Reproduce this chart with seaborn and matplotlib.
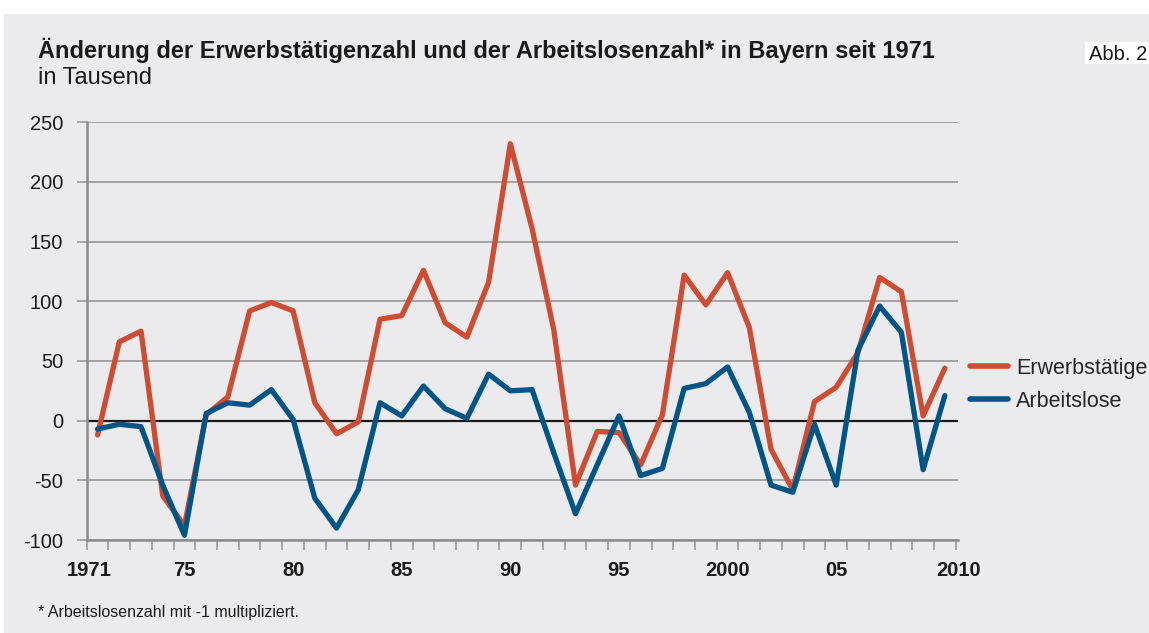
import matplotlib
matplotlib.use("Agg")
import matplotlib.pyplot as plt
import matplotlib.patches as mpatches
from matplotlib.ticker import MultipleLocator, FixedLocator
import seaborn as sns
import pandas as pd

# values, in thousand
years = list(range(1971, 2011))
erwerbstaetige = [-12, 66, 75, -63, -88, 5, 20, 92, 99, 92,
                  15, -11, -1, 85, 88, 126, 82, 70, 116, 232,
                  161, 76, -54, -9, -10, -37, 5, 122, 97, 124,
                  78, -24, -58, 16, 28, 57, 120, 108, 4, 44]
arbeitslose = [-7, -3, -5, -54, -96, 6, 15, 13, 26, 1,
               -65, -90, -58, 15, 4, 29, 10, 2, 39, 25,
               26, -27, -78, -37, 4, -46, -40, 27, 31, 45,
               7, -54, -60, -3, -54, 59, 96, 74, -41, 21]
series_names = ["Erwerbstätige", "Arbeitslose"]
series_colors = ["#cf4b31", "#005587"]
xtick_years = [1971, 1975, 1980, 1985, 1990, 1995, 2000, 2005, 2010]
xtick_labels = ["1971", "75", "80", "85", "90", "95", "2000", "05", "2010"]

df = pd.DataFrame({
    "Jahr": years * 2,
    "Wert": erwerbstaetige + arbeitslose,
    "Reihe": [series_names[0]] * len(years) + [series_names[1]] * len(years),
})

sns.set_theme(style="white")
plt.rcParams["font.family"] = ["Liberation Sans", "DejaVu Sans"]
plt.rcParams["axes.unicode_minus"] = False

bg = "#ebebed"
W, H = 1149, 633
fig = plt.figure(figsize=(W / 100, H / 100), dpi=100)
fig.patch.set_facecolor("white")
fig.patches.append(mpatches.Rectangle((4 / W, 0), 1, (H - 14) / H,
                                      transform=fig.transFigure,
                                      facecolor=bg, edgecolor="none", zorder=-10))

ax = fig.add_axes([86.7 / W, (H - 540) / H, 871.6 / W, 417.7 / H])
ax.set_facecolor(bg)

sns.lineplot(data=df, x="Jahr", y="Wert", hue="Reihe", hue_order=series_names,
             palette=series_colors, linewidth=3.8, ax=ax, zorder=3)

ax.set_xlim(1970.5, 2010.5)
ax.set_ylim(-100, 250)
ax.yaxis.set_major_locator(MultipleLocator(50))
ax.yaxis.grid(True, color="#a3a3a3", linewidth=1.4)
ax.xaxis.grid(False)
ax.axhline(0, color="#1a1a1a", linewidth=1.6, zorder=2)

for s in ["top", "right"]:
    ax.spines[s].set_visible(False)
for s in ["left", "bottom"]:
    ax.spines[s].set_color("#8c8c8c")
    ax.spines[s].set_linewidth(1.8)

# category boundaries as small tick marks
ax.xaxis.set_minor_locator(FixedLocator([y - 0.5 for y in years] + [years[-1] + 0.5]))
ax.tick_params(axis="x", which="minor", bottom=True, length=7, width=1.2,
               color="#9a9a9a", direction="out")
# end labels sit a little outward, as in the original
label_pos = [xtick_years[0] - 0.37] + xtick_years[1:-1] + [xtick_years[-1] + 0.62]
ax.set_xticks(label_pos)
ax.set_xticklabels(xtick_labels, fontsize=14.5, fontweight="bold", color="#1a1a1a")
ax.tick_params(axis="x", which="major", bottom=True, length=0, pad=15)
ax.tick_params(axis="y", left=True, length=7, width=1.2, color="#9a9a9a",
               pad=10, labelsize=14.5, labelcolor="#1a1a1a")
ax.set_xlabel("")
ax.set_ylabel("")

leg = ax.legend(loc="upper left", bbox_to_anchor=(970 / W, (H - 358) / H),
                bbox_transform=fig.transFigure, frameon=False, fontsize=15.5,
                handlelength=1.75, handletextpad=0.4, labelspacing=0.55,
                borderpad=0, borderaxespad=0)
for line in leg.get_lines():
    line.set_linewidth(4)

fig.text(38 / W, 1 - 50 / H, "Änderung der Erwerbstätigenzahl und der Arbeitslosenzahl* in Bayern seit 1971",
         fontsize=17, fontweight="bold", color="#1a1a1a", va="center", ha="left")
fig.text(38 / W, 1 - 78 / H, "in Tausend", fontsize=17, color="#1a1a1a", va="center", ha="left")
fig.text(38 / W, 1 - 612 / H, "* Arbeitslosenzahl mit -1 multipliziert.",
         fontsize=11.5, color="#1a1a1a", va="center", ha="left")
fig.patches.append(mpatches.Rectangle((1085 / W, 1 - 64 / H), 1, 22 / H,
                                      transform=fig.transFigure,
                                      facecolor="white", edgecolor="none"))
fig.text(1089 / W, 1 - 54 / H, "Abb. 2", fontsize=14.5, color="#1a1a1a", va="center", ha="left")

fig.savefig("out.png", dpi=100, facecolor=fig.get_facecolor())
